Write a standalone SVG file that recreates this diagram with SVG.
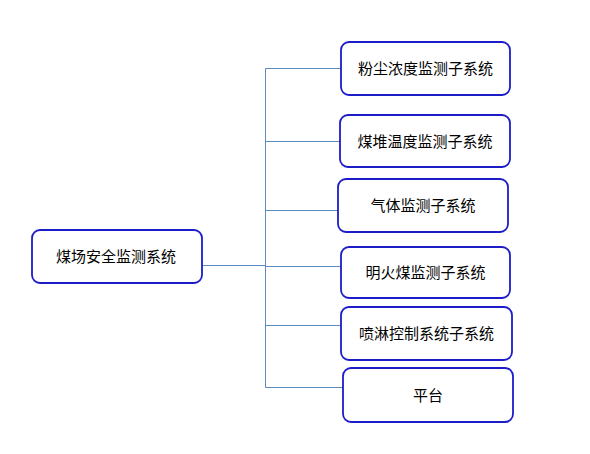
<svg xmlns="http://www.w3.org/2000/svg" width="590" height="454" viewBox="0 0 590 454">
<style>
.box{fill:#fff;stroke:#1c1cc8;stroke-width:1.8}
.lbl{font-family:"Liberation Sans","Noto Sans CJK SC",sans-serif;font-size:15px;fill:#000;text-anchor:middle;dominant-baseline:central}
.con{fill:none;stroke:#5b8bc0;stroke-width:1}
</style>
<rect width="590" height="454" fill="#fff"/>
<g id="connectors">
<path class="con" d="M203,265.5H265.5"/>
<path class="con" d="M265.5,68.5V387.5"/>
<path class="con" d="M265.5,68.5H341"/>
<path class="con" d="M265.5,141.5H340"/>
<path class="con" d="M265.5,210.5H338"/>
<path class="con" d="M265.5,266.5H341"/>
<path class="con" d="M265.5,325.5H341"/>
<path class="con" d="M265.5,387.5H343"/>
</g>
<g id="root"><rect class="box" x="32" y="230" width="170" height="53" rx="8"/><text class="lbl" x="116" y="256.5">煤场安全监测系统</text></g>
<g id="n1"><rect class="box" x="341" y="42" width="169" height="53" rx="8"/><text class="lbl" x="425.5" y="68.5">粉尘浓度监测子系统</text></g>
<g id="n2"><rect class="box" x="340" y="115" width="170" height="52" rx="8"/><text class="lbl" x="425" y="141">煤堆温度监测子系统</text></g>
<g id="n3"><rect class="box" x="338" y="179" width="170" height="53" rx="8"/><text class="lbl" x="423" y="205.5">气体监测子系统</text></g>
<g id="n4"><rect class="box" x="341" y="247" width="169" height="51" rx="8"/><text class="lbl" x="425.5" y="272.5">明火煤监测子系统</text></g>
<g id="n5"><rect class="box" x="341" y="307" width="171" height="53" rx="8"/><text class="lbl" x="426.5" y="333.5">喷淋控制系统子系统</text></g>
<g id="n6"><rect class="box" x="343" y="368" width="170" height="54" rx="8"/><text class="lbl" x="428" y="395">平台</text></g>
</svg>
